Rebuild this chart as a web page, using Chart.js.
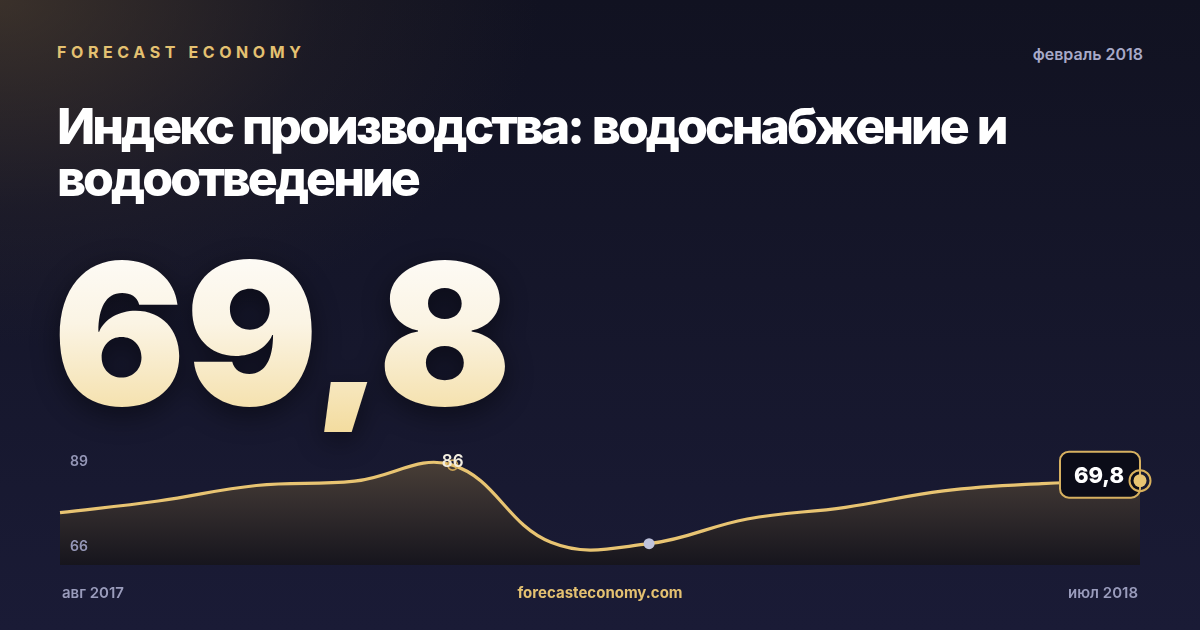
<!DOCTYPE html>
<html lang="ru">
<head>
<meta charset="utf-8">
<script src="https://cdn.jsdelivr.net/npm/chart.js@4.4.1/dist/chart.umd.min.js"></script>
<style>
  html, body { margin:0; padding:0; }
  body {
    width:1200px; height:630px; overflow:hidden; position:relative;
    font-family: Inter, "Noto Sans", sans-serif;
    background:
      radial-gradient(ellipse 720px 460px at 0px 0px, rgba(92,74,50,0.55) 0%, rgba(60,50,45,0.22) 45%, rgba(0,0,0,0) 75%),
      linear-gradient(180deg, #111221 0%, #15162a 45%, #1a1b36 100%);
  }
  .abs { position:absolute; white-space:nowrap; }
  #brand { left:57px; top:44px; font-size:16px; line-height:16px; font-weight:700; letter-spacing:4.6px; color:#e4c171; }
  #date { right:57px; top:46px; font-size:16px; line-height:16px; font-weight:600; color:#a7a9c8; }
  #title { left:57px; top:100px; font-size:50px; line-height:52px; font-weight:800; color:#ffffff; letter-spacing:-3px; word-spacing:2px; }
  #big { left:53px; top:235px; font-size:197px; line-height:197px; font-weight:900; letter-spacing:-0.5px;
    background: linear-gradient(180deg, #fefdfb 0%, #fbf4e4 45%, #f3dc9f 100%);
    -webkit-background-clip:text; background-clip:text; color:transparent;
    filter: drop-shadow(0 8px 14px rgba(0,0,0,0.45)); }
  #chartBox { left:40px; top:430px; width:1120px; height:155px; }
  .ytick { left:70px; font-size:14px; line-height:14px; font-weight:600; color:#9597b7; }
  #peakLbl { font-size:17px; line-height:17px; font-weight:600; color:#f3eee0; transform:translate(-50%,-50%); }
  #lastLbl { font-size:22px; line-height:22px; font-weight:800; color:#ffffff; transform:translate(-50%,-50%); }
  .foot { top:585px; font-size:15px; line-height:15px; font-weight:600; color:#9a9cbc; }
  #site { left:0; width:1200px; text-align:center; top:585px; font-size:15px; line-height:15px; font-weight:700; color:#e4c171; }
</style>
</head>
<body>
<div id="brand" class="abs">FORECAST ECONOMY</div>
<div id="date" class="abs">февраль 2018</div>
<div id="title" class="abs">Индекс производства: водоснабжение и<br>водоотведение</div>
<div id="big" class="abs">69,8</div>
<div id="chartBox" class="abs"><canvas id="c" width="1120" height="155"></canvas></div>
<div id="ytop" class="abs ytick"></div>
<div id="ybot" class="abs ytick"></div>
<div id="peakLbl" class="abs"></div>
<div id="lastLbl" class="abs"></div>
<div id="firstCat" class="abs foot" style="left:62px;"></div>
<div id="lastCat" class="abs foot" style="right:62px;"></div>
<div id="site" class="abs">forecasteconomy.com</div>

<script>
// ---- data ----
const categories = ['авг 2017','сен 2017','окт 2017','ноя 2017','дек 2017','янв 2018','фев 2018','мар 2018','апр 2018','май 2018','июн 2018','июл 2018'];
const values = [76.2, 78.6, 81.8, 82.7, 86.0, 70.1, 69.8, 74.9, 77.3, 80.7, 82.2, 82.8];
const yTickLabels = ['89', '66'];
const peakLabel = '86';
const headlineLabel = '69,8';
const peakIndex = 4;
const currentIndex = 6;
const lastIndex = values.length - 1;

const GOLD = '#e8c472';

const ringData = values.map((v, i) => (i === peakIndex || i === lastIndex) ? v : null);
const dotData = values.map((v, i) => (i === currentIndex || i === lastIndex) ? v : null);

const boxPlugin = {
  id: 'lastBox',
  afterDatasetDraw(chart, args) {
    if (args.index !== 0) return;
    const ctx = chart.ctx;
    const x = chart.scales.x.getPixelForValue(lastIndex);
    const y = chart.scales.y.getPixelForValue(values[lastIndex]);
    ctx.save();
    ctx.beginPath();
    ctx.roundRect(x - 80, y - 29, 80, 46, 9);
    ctx.fillStyle = '#0b0c18';
    ctx.fill();
    ctx.lineWidth = 2;
    ctx.strokeStyle = '#d6b060';
    ctx.stroke();
    ctx.restore();
  }
};

const chart = new Chart(document.getElementById('c'), {
  type: 'line',
  data: {
    labels: categories,
    datasets: [
      {
        data: values,
        borderColor: GOLD,
        borderWidth: 3.2,
        tension: 0.4,
        pointRadius: 0,
        fill: 'start',
        order: 3,
        backgroundColor(context) {
          const ca = context.chart.chartArea;
          if (!ca) return 'rgba(0,0,0,0)';
          const g = context.chart.ctx.createLinearGradient(0, ca.top, 0, ca.bottom);
          g.addColorStop(0, '#4e4339');
          g.addColorStop(0.45, '#352e2e');
          g.addColorStop(1, '#16151d');
          return g;
        }
      },
      {
        data: ringData,
        showLine: false,
        clip: false,
        order: 2,
        pointRadius: ctx => ctx.dataIndex === lastIndex ? 10.5 : 5,
        pointBorderWidth: ctx => ctx.dataIndex === lastIndex ? 2 : 1.6,
        pointBorderColor: ctx => ctx.dataIndex === lastIndex ? '#d8b05c' : '#c9a255',
        pointBackgroundColor: 'rgba(0,0,0,0)'
      },
      {
        data: dotData,
        showLine: false,
        clip: false,
        order: 1,
        pointRadius: ctx => ctx.dataIndex === lastIndex ? 6.5 : 5.5,
        pointBorderWidth: 0,
        pointBackgroundColor: ctx => ctx.dataIndex === lastIndex ? GOLD : '#bfc3dc'
      }
    ]
  },
  options: {
    responsive: false,
    animation: false,
    events: [],
    layout: { padding: { left: 20, right: 20, top: 20.6, bottom: 20 } },
    plugins: { legend: { display: false }, tooltip: { enabled: false } },
    scales: {
      x: { display: false },
      y: { display: false, min: 65.4, max: 89 }
    }
  },
  plugins: [boxPlugin]
});

// ---- text overlays placed through the chart's scales ----
const ox = 40, oy = 430;
const ca = chart.chartArea;
const ytop = document.getElementById('ytop');
ytop.textContent = yTickLabels[0];
ytop.style.top = (oy + ca.top + 3) + 'px';
const ybot = document.getElementById('ybot');
ybot.textContent = yTickLabels[1];
ybot.style.top = (oy + ca.bottom - 26) + 'px';

const px = chart.scales.x.getPixelForValue(peakIndex);
const py = chart.scales.y.getPixelForValue(values[peakIndex]);
const pl = document.getElementById('peakLbl');
pl.textContent = peakLabel;
pl.style.left = (ox + px) + 'px';
pl.style.top = (oy + py - 4) + 'px';

const lx = chart.scales.x.getPixelForValue(lastIndex);
const ly = chart.scales.y.getPixelForValue(values[lastIndex]);
const ll = document.getElementById('lastLbl');
ll.textContent = headlineLabel;
ll.style.left = (ox + lx - 41) + 'px';
ll.style.top = (oy + ly - 6) + 'px';

document.getElementById('firstCat').textContent = categories[0];
document.getElementById('lastCat').textContent = categories[lastIndex];
</script>
</body>
</html>
